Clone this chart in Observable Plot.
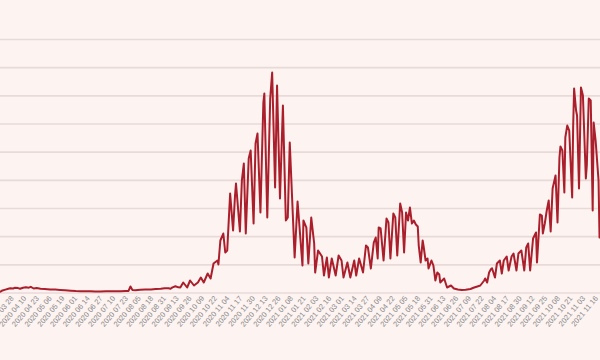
<!DOCTYPE html>
<html><head><meta charset="utf-8">
<script src="https://cdn.jsdelivr.net/npm/d3@7"></script>
<script src="https://cdn.jsdelivr.net/npm/@observablehq/plot@0.6"></script>
<style>
html,body{margin:0;padding:0;background:#fdf3f1;}
#chart{width:600px;height:360px;overflow:hidden;}
</style></head><body><div id="chart"></div>
<script>
// Day numbers are days after startDate
const startDate = "2020-03-16";
const lastDay = 614;
const dayNumber = [
  0,2,5,8,10,13,15,18,20,23,26,29,31,34,37,41,45,51,56,61,66,72,77,82,87,92,97,102,108,113,118,123,128,131,133,135,138,143,148,154,159,164,168,172,174,176,179,182,
  184,187,191,194,198,202,205,208,212,215,218,222,223,225,228,230,232,
  235,238,240,241,245,247,249,251,254,256,259,261,263,266,269,270,273,276,278,281,283,286,289,292,294,296,301,304,
  309,310,313,315,318,321,322,325,329,331,334,336,339,343,346,349,351,355,358,362,364,367,371,374,376,379,382,384,386,387,
  389,392,395,397,399,402,404,406,409,411,413,415,417,419,421,423,425,427,428,430,432,433,435,437,438,441,443,445,447,449,450,454,457,461,464,468,472,476,481,484,488,491,495,496,498,500,502,503,
  506,508,511,513,515,518,520,523,525,528,530,533,536,538,540,542,545,548,549,552,554,555,557,559,561,563,565,568,570,572,573,575,577,578,580,582,585,586,587,589,590,592,594,596,599,600,602,604,606,607,609,612,613,614
];
const dailyCases = [
  50,90,120,150,170,160,190,175,150,185,205,190,220,160,175,150,140,125,120,110,95,80,70,65,60,60,55,55,58,60,62,65,70,75,230,110,100,115,120,125,140,150,165,170,150,200,240,200,
  195,373,195,444,266,373,550,373,692,515,1047,1154,1012,1864,2112,1438,1509,
  3532,2219,3461,3887,2183,3994,4597,2112,4775,5059,2467,5307,5662,2858,6763,7082,2680,6905,7828,3745,7366,3355,6656,2574,2680,5343,1260,3250,
  976,2574,2325,1047,2680,1757,728,1509,1296,621,1260,550,1225,621,1331,1154,550,1083,550,1154,621,1225,728,1686,1615,870,1793,1970,1225,2325,
  2290,1154,2645,2503,1225,2822,2680,1331,3177,2858,1438,2858,2574,3035,2467,2574,2432,2361,1686,1083,1864,1651,1154,1225,870,1154,976,444,728,657,373,515,195,266,160,124,106,114,142,185,231,266,444,515,373,728,850,880,
  550,1047,1154,692,1154,1296,799,1296,1402,799,1402,1509,799,1615,1757,799,1935,2148,1083,2787,2751,2112,2467,2929,3284,2183,3710,4171,2503,4810,5201,5059,3568,5520,5946,5769,3390,5875,7260,6479,6301,3710,7295,7011,4065,4526,6905,6834,2929,6053,5414,3994,1970,2219
];
const tickLabels = [
  "2020 03 28","2020 04 10","2020 04 23","2020 05 06","2020 05 19","2020 06 01","2020 06 14","2020 06 27",
  "2020 07 10","2020 07 23","2020 08 05","2020 08 18","2020 08 31","2020 09 13","2020 09 26","2020 10 09",
  "2020 10 22","2020 11 04","2020 11 17","2020 11 30","2020 12 13","2020 12 26","2021 01 08","2021 01 21",
  "2021 02 03","2021 02 16","2021 03 01","2021 03 14","2021 03 27","2021 04 09","2021 04 22","2021 05 05",
  "2021 05 18","2021 05 31","2021 06 13","2021 06 26","2021 07 09","2021 07 22","2021 08 04","2021 08 17",
  "2021 08 30","2021 09 12","2021 09 25","2021 10 08","2021 10 21","2021 11 03","2021 11 16"
];
const gridValues = [0,1000,2000,3000,4000,5000,6000,7000,8000,9000];

const start = d3.utcParse("%Y-%m-%d")(startDate);
const data = dayNumber.map((d, i) => ({date: d3.utcDay.offset(start, d), value: dailyCases[i]}));
const parseTick = d3.utcParse("%Y %m %d");
const ticks = tickLabels.map(parseTick);

const chart = Plot.plot({
  width: 600,
  height: 360,
  marginLeft: 0,
  marginRight: 0,
  marginTop: 39,
  marginBottom: 67.5,
  style: {background: "#fdf3f1", fontFamily: "'Liberation Sans', Arial, sans-serif", fontSize: "7.5px", color: "#8c8c8c", overflow: "visible"},
  x: {type: "utc", domain: [start, d3.utcDay.offset(start, lastDay)], ticks: ticks, tickFormat: d3.utcFormat("%Y %m %d"), tickRotate: -50, tickSize: 0, tickPadding: 4, label: null},
  y: {domain: [0, 9000], axis: null},
  marks: [
    Plot.ruleY(gridValues, {stroke: "#e8dad7", strokeWidth: 1.6}),
    Plot.line(data, {x: "date", y: "value", stroke: "#aa1f2b", strokeWidth: 2, strokeLinejoin: "round"})
  ]
});
document.getElementById("chart").appendChild(chart);
</script>
</body></html>
